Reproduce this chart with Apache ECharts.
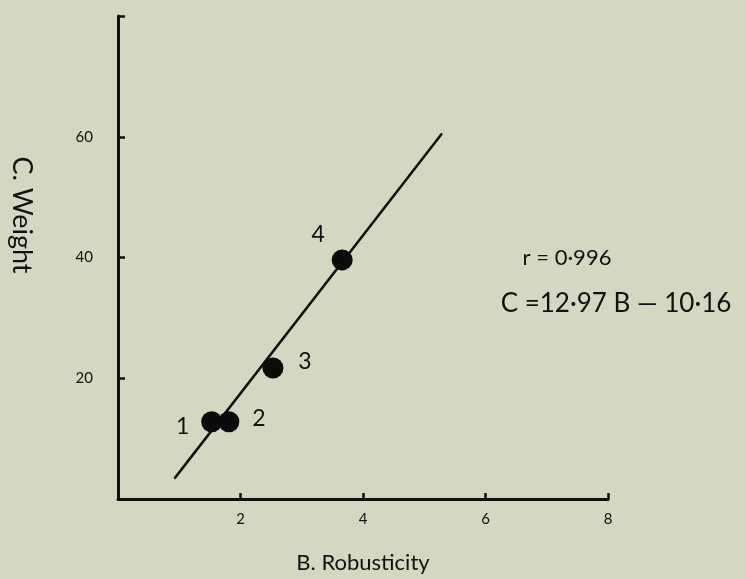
<!DOCTYPE html>
<html>
<head>
<meta charset="utf-8">
<script src="https://cdn.jsdelivr.net/npm/echarts@6/dist/echarts.min.js"></script>
<style>
html,body{margin:0;padding:0;background:#d6d7c2;}
#chart{width:745px;height:579px;}
</style>
</head>
<body>
<div id="chart"></div>
<script>
// Data
var pointLabels = ['1', '2', '3', '4'];
var robusticity = [1.53, 1.81, 2.53, 3.66];
var weight = [12.8, 12.8, 21.7, 39.6];
var fitLineB = [0.93, 5.28];
var fitLineC = [3.5, 60.4];
var xTickLabels = [2, 4, 6, 8];
var yTickLabels = [20, 40, 60];
var xTitle = 'B. Robusticity';
var yTitle = 'C. Weight';
var statR = 'r = 0·996';
var statEq = 'C =12·97 B \u2014 10·16';

var FONT = 'Lato, "Noto Sans", sans-serif';
var INK = '#111111';

var labelOffsets = [[-29, 5], [30, -3], [32, -6], [-24, -25]];

var scatterData = robusticity.map(function (b, i) {
  return {
    value: [b, weight[i]],
    label: { show: true, position: 'inside', offset: labelOffsets[i], formatter: pointLabels[i] }
  };
});

var chart = echarts.init(document.getElementById('chart'));
chart.setOption({
  backgroundColor: '#d6d7c2',
  animation: false,
  grid: { left: 118, right: 137, top: 16, bottom: 73, containLabel: false },
  xAxis: {
    type: 'value', min: 0, max: 8, interval: 2,
    name: xTitle, nameLocation: 'middle', nameGap: 53,
    nameTextStyle: { fontFamily: FONT, fontSize: 22, color: INK },
    axisLine: { show: true, lineStyle: { color: INK, width: 3 } },
    axisTick: { show: true, inside: true, length: 6, lineStyle: { color: INK, width: 2.5 } },
    axisLabel: {
      fontFamily: FONT, fontSize: 15, color: INK, margin: 13,
      formatter: function (v) { return xTickLabels.indexOf(v) >= 0 ? String(v) : ''; }
    },
    splitLine: { show: false }
  },
  yAxis: {
    type: 'value', min: 0, max: 80, interval: 20,
    axisLine: { show: true, lineStyle: { color: INK, width: 3 } },
    axisTick: { show: true, inside: true, length: 7, lineStyle: { color: INK, width: 2.5 } },
    axisLabel: {
      fontFamily: FONT, fontSize: 15, color: INK, margin: 25,
      formatter: function (v) { return yTickLabels.indexOf(v) >= 0 ? String(v) : ''; }
    },
    splitLine: { show: false }
  },
  series: [
    {
      type: 'line',
      data: [[fitLineB[0], fitLineC[0]], [fitLineB[1], fitLineC[1]]],
      symbol: 'none',
      lineStyle: { color: INK, width: 2.5, cap: 'round' },
      z: 2
    },
    {
      type: 'scatter',
      data: scatterData,
      symbol: 'circle',
      symbolSize: 21,
      itemStyle: { color: '#0b0b0b', opacity: 1 },
      label: { fontFamily: FONT, fontSize: 23, color: INK },
      z: 3
    }
  ],
  graphic: [
    {
      type: 'text', x: 22, y: 215, rotation: -Math.PI / 2,
      style: { text: yTitle, fontFamily: FONT, fontSize: 27, fill: INK, textAlign: 'center', textVerticalAlign: 'middle' }
    },
    {
      type: 'text', x: 567, y: 258,
      style: { text: statR, fontFamily: FONT, fontSize: 22, fill: INK, textAlign: 'center', textVerticalAlign: 'middle' }
    },
    {
      type: 'text', x: 616, y: 304,
      style: { text: statEq, fontFamily: FONT, fontSize: 26, fill: INK, textAlign: 'center', textVerticalAlign: 'middle' }
    }
  ]
});
</script>
</body>
</html>
